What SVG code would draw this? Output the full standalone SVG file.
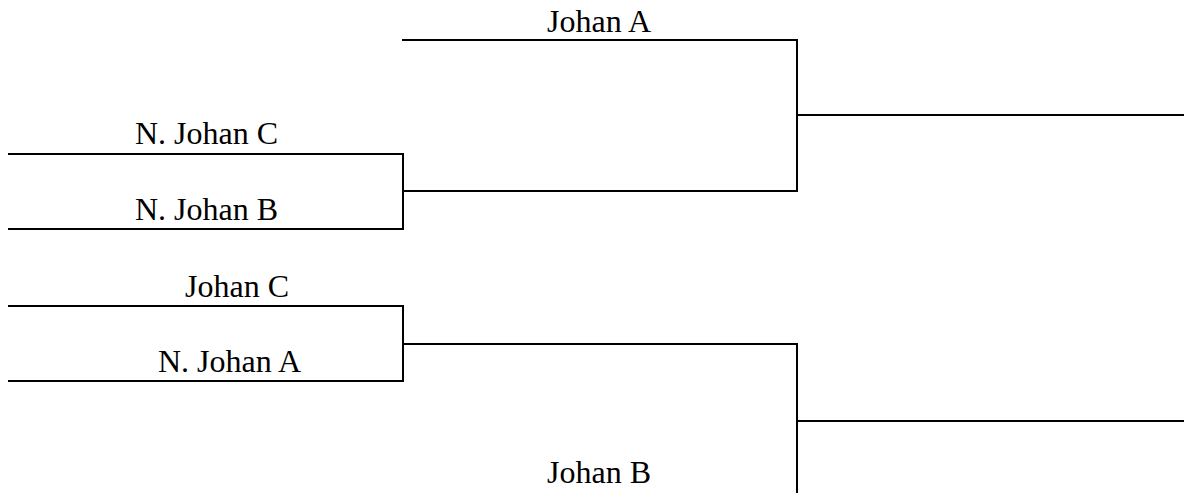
<svg xmlns="http://www.w3.org/2000/svg" width="1184" height="493" viewBox="0 0 1184 493">
<style>
.ln{stroke:#000;stroke-width:2;fill:none;stroke-linecap:square}
.lb{font-family:"Liberation Serif","Times New Roman",serif;font-size:32px;fill:#000}
</style>
<rect width="1184" height="493" fill="#fff"/>
<g id="johan-a">
<line class="ln" x1="403" y1="40" x2="797" y2="40"/>
<text class="lb" x="547" y="32">Johan A</text>
</g>
<g id="n-johan-c">
<line class="ln" x1="9" y1="154" x2="403" y2="154"/>
<text class="lb" x="135" y="144">N. Johan C</text>
</g>
<g id="n-johan-b">
<line class="ln" x1="9" y1="229" x2="403" y2="229"/>
<text class="lb" x="135" y="220">N. Johan B</text>
</g>
<g id="johan-c">
<line class="ln" x1="9" y1="306" x2="403" y2="306"/>
<text class="lb" x="185" y="297">Johan C</text>
</g>
<g id="n-johan-a">
<line class="ln" x1="9" y1="381" x2="403" y2="381"/>
<text class="lb" x="158" y="372">N. Johan A</text>
</g>
<g id="johan-b">
<text class="lb" x="547" y="483">Johan B</text>
</g>
<g id="winner-top">
<line class="ln" x1="797" y1="115" x2="1184" y2="115"/>
</g>
<g id="winner-bottom">
<line class="ln" x1="797" y1="421" x2="1184" y2="421"/>
</g>
<g id="connectors">
<line class="ln" x1="403" y1="154" x2="403" y2="229"/>
<line class="ln" x1="403" y1="191" x2="797" y2="191"/>
<line class="ln" x1="797" y1="40" x2="797" y2="191"/>
<line class="ln" x1="403" y1="306" x2="403" y2="381"/>
<line class="ln" x1="403" y1="344" x2="797" y2="344"/>
<line class="ln" x1="797" y1="344" x2="797" y2="500"/>
</g>
</svg>
